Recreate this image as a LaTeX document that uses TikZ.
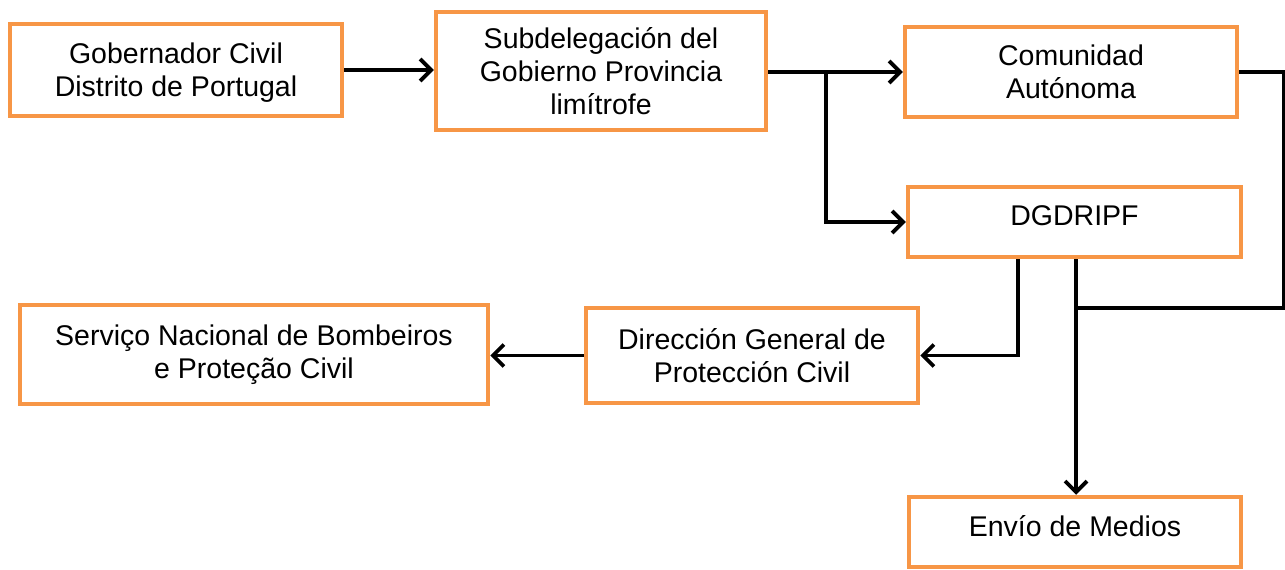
\documentclass[tikz,border=0pt]{standalone}
\usepackage{fontspec}
\setmainfont{Liberation Sans}
\usetikzlibrary{arrows.meta}
\definecolor{boxorange}{HTML}{F79646}
\tikzset{
  box/.style={draw=boxorange, line width=4.5pt, fill=white, align=center,
    font=\fontsize{28.5}{33}\selectfont, inner sep=0pt},
  conn/.style={draw=black, line width=3.8pt},
  arr/.style={conn, -{Straight Barb[length=11pt,width=22pt]}}
}
\begin{document}
\begin{tikzpicture}[x=1pt,y=-1pt]
\useasboundingbox[fill=white] (0,0) rectangle (1285,570);
\node[box, minimum width=332pt, minimum height=92pt, text depth=0pt] (b1) at (176,70) {Gobernador Civil\\Distrito de Portugal};
\node[box, minimum width=330pt, minimum height=118pt] (b2) at (601,71) {Subdelegación del\\Gobierno Provincia\\limítrofe};
\node[box, minimum width=332pt, minimum height=90pt] (b3) at (1071,72) {Comunidad\\Autónoma};
\node[box, minimum width=333pt, minimum height=70pt, text depth=12pt] (b4) at (1074.5,222) {DGDRIPF};
\node[box, minimum width=468pt, minimum height=99pt] (b5) at (254,354.5) {Serviço Nacional de Bombeiros\\e Proteção Civil};
\node[box, minimum width=332pt, minimum height=95pt] (b6) at (752,355.5) {Dirección General de\\Protección Civil};
\node[box, minimum width=332pt, minimum height=70pt, text depth=12pt] (b7) at (1075,532) {Envío de Medios};

\coordinate (j1) at (826,72);
\coordinate (j2) at (1076,308);
\coordinate (r1) at (1284,308);
\coordinate (k) at (1018,0);

\draw[arr] (b1.east) -- (b2.west |- b1.east);
\draw[arr] (b2.east |- b3.west) -- (b3.west);
\draw[arr] (j1) |- (b4.west);
\draw[conn] (b3.east) -| (r1) -- (j2);
\draw[arr] (b4.south -| j2) -- (b7.north -| j2);
\draw[arr] (b4.south -| k) |- (b6.east);
\draw[arr] (b6.west) -- (b5.east |- b6.west);
\end{tikzpicture}
\end{document}
